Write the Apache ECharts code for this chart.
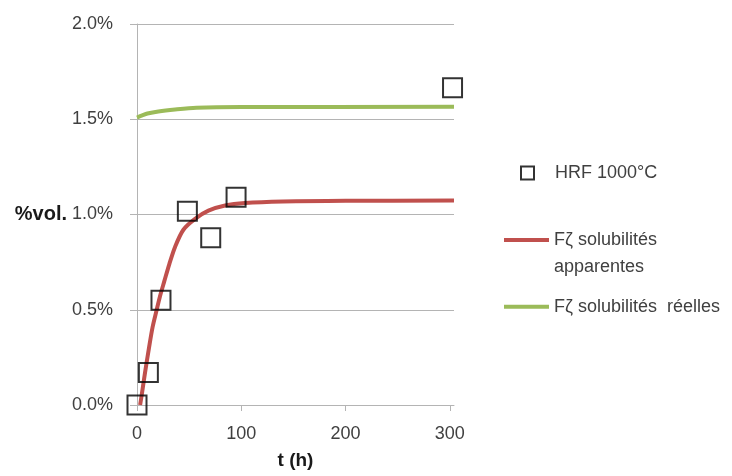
<!DOCTYPE html>
<html>
<head>
<meta charset="utf-8">
<script src="https://cdn.jsdelivr.net/npm/echarts@6/dist/echarts.min.js"></script>
<style>
html,body{margin:0;padding:0;background:#fff;}
#chart{width:732px;height:476px;}
</style>
</head>
<body>
<div id="chart"></div>
<script>
// Measured points: time (h) and volume fraction (%)
const hrfT = [0, 10.9, 23, 48.3, 70.7, 95, 302.6];
const hrfV = [0.00, 0.17, 0.55, 1.017, 0.878, 1.09, 1.665];

// Model curve: apparent solubilities
const appT = [3, 5, 7.7, 11.5, 15, 18.9, 22, 26.2, 31, 36.5, 44.5, 55.7, 68.5, 84.5, 103.6, 140, 200, 304];
const appV = [0.00, 0.07, 0.17, 0.30, 0.41, 0.50, 0.57, 0.65, 0.74, 0.83, 0.92, 0.977, 1.02, 1.047, 1.06, 1.068, 1.072, 1.073];

// Model curve: real solubilities
const reelT = [0, 5, 10, 20.5, 36.5, 57, 100, 304];
const reelV = [1.509, 1.52, 1.53, 1.541, 1.551, 1.56, 1.564, 1.565];

const xTicks = [0, 100, 200, 300];

const names = ['HRF 1000°C', 'Fζ solubilités apparentes', 'Fζ solubilités  réelles'];

const zip = (a, b) => a.map((v, i) => [v, b[i]]);

const FONT = 'Liberation Sans';
const TXT = '#404040';
const GRID = '#b4b4b4';
const RED = '#c0504d';
const GREEN = '#9bbb59';

const chart = echarts.init(document.getElementById('chart'), null, {renderer: 'canvas'});
chart.setOption({
  animation: false,
  backgroundColor: '#fff',
  textStyle: {fontFamily: FONT},
  grid: {left: 137, right: 278, top: 24, bottom: 71, containLabel: false, outerBoundsMode: 'none'},
  legend: [
    {
      left: 504, top: 164, padding: 0, itemWidth: 45, itemHeight: 13,
      symbolKeepAspect: false,
      data: [{name: names[0], icon: 'path://M0,0 M45,13 M16,0 L29,0 L29,13 L16,13 Z'}],
      itemStyle: {color: 'rgba(255,255,255,0)', borderColor: '#000', borderWidth: 2},
      textStyle: {fontFamily: FONT, fontSize: 18, color: TXT, lineHeight: 18},
      selectedMode: false
    },
    {
      left: 504, top: 199.5, padding: 0, itemWidth: 45, itemHeight: 4,
      symbolKeepAspect: false,
      data: [{name: names[1], icon: 'rect'}],
      itemStyle: {color: RED, borderWidth: 0},
      formatter: () => ' \nFζ solubilités\napparentes',
      textStyle: {fontFamily: FONT, fontSize: 18, color: TXT, lineHeight: 27},
      selectedMode: false
    },
    {
      left: 504, top: 297.7, padding: 0, itemWidth: 45, itemHeight: 4,
      symbolKeepAspect: false,
      data: [{name: names[2], icon: 'rect'}],
      itemStyle: {color: GREEN, borderWidth: 0},
      textStyle: {fontFamily: FONT, fontSize: 18, color: TXT, lineHeight: 18},
      selectedMode: false
    }
  ],
  xAxis: {
    type: 'value', min: 0, max: 304, interval: 100,
    name: 't (h)', nameLocation: 'middle', nameGap: 46,
    nameTextStyle: {fontFamily: FONT, fontSize: 19, fontWeight: 'bold', color: '#1a1a1a'},
    axisLine: {show: true, lineStyle: {color: GRID, width: 1}},
    axisTick: {show: true, length: 6, lineStyle: {color: GRID}, customValues: xTicks},
    axisLabel: {fontFamily: FONT, fontSize: 18, color: TXT, margin: 20, customValues: xTicks},
    splitLine: {show: false}
  },
  yAxis: {
    type: 'value', min: 0, max: 2, interval: 0.5,
    name: '%vol.', nameLocation: 'middle', nameRotate: 0, nameGap: 70,
    nameTextStyle: {fontFamily: FONT, fontSize: 20, fontWeight: 'bold', color: '#1a1a1a', align: 'right', verticalAlign: 'middle'},
    axisLine: {show: true, lineStyle: {color: GRID, width: 1}},
    axisTick: {show: true, length: 7, lineStyle: {color: GRID}},
    axisLabel: {fontFamily: FONT, fontSize: 18, color: TXT, margin: 24, formatter: v => v.toFixed(1) + '%'},
    splitLine: {show: true, lineStyle: {color: GRID, width: 1}}
  },
  series: [
    {
      name: names[0], type: 'scatter', data: zip(hrfT, hrfV),
      symbol: 'rect', symbolSize: 19, clip: false,
      itemStyle: {color: 'rgba(255,255,255,0)', borderColor: '#000', borderWidth: 2},
      z: 3
    },
    {
      name: names[1], type: 'line', data: zip(appT, appV),
      symbol: 'none', smooth: 0.3,
      lineStyle: {color: RED, width: 4},
      itemStyle: {color: RED},
      z: 2
    },
    {
      name: names[2], type: 'line', data: zip(reelT, reelV),
      symbol: 'none', smooth: 0.3,
      lineStyle: {color: GREEN, width: 4},
      itemStyle: {color: GREEN},
      z: 2
    }
  ]
});
</script>
</body>
</html>
